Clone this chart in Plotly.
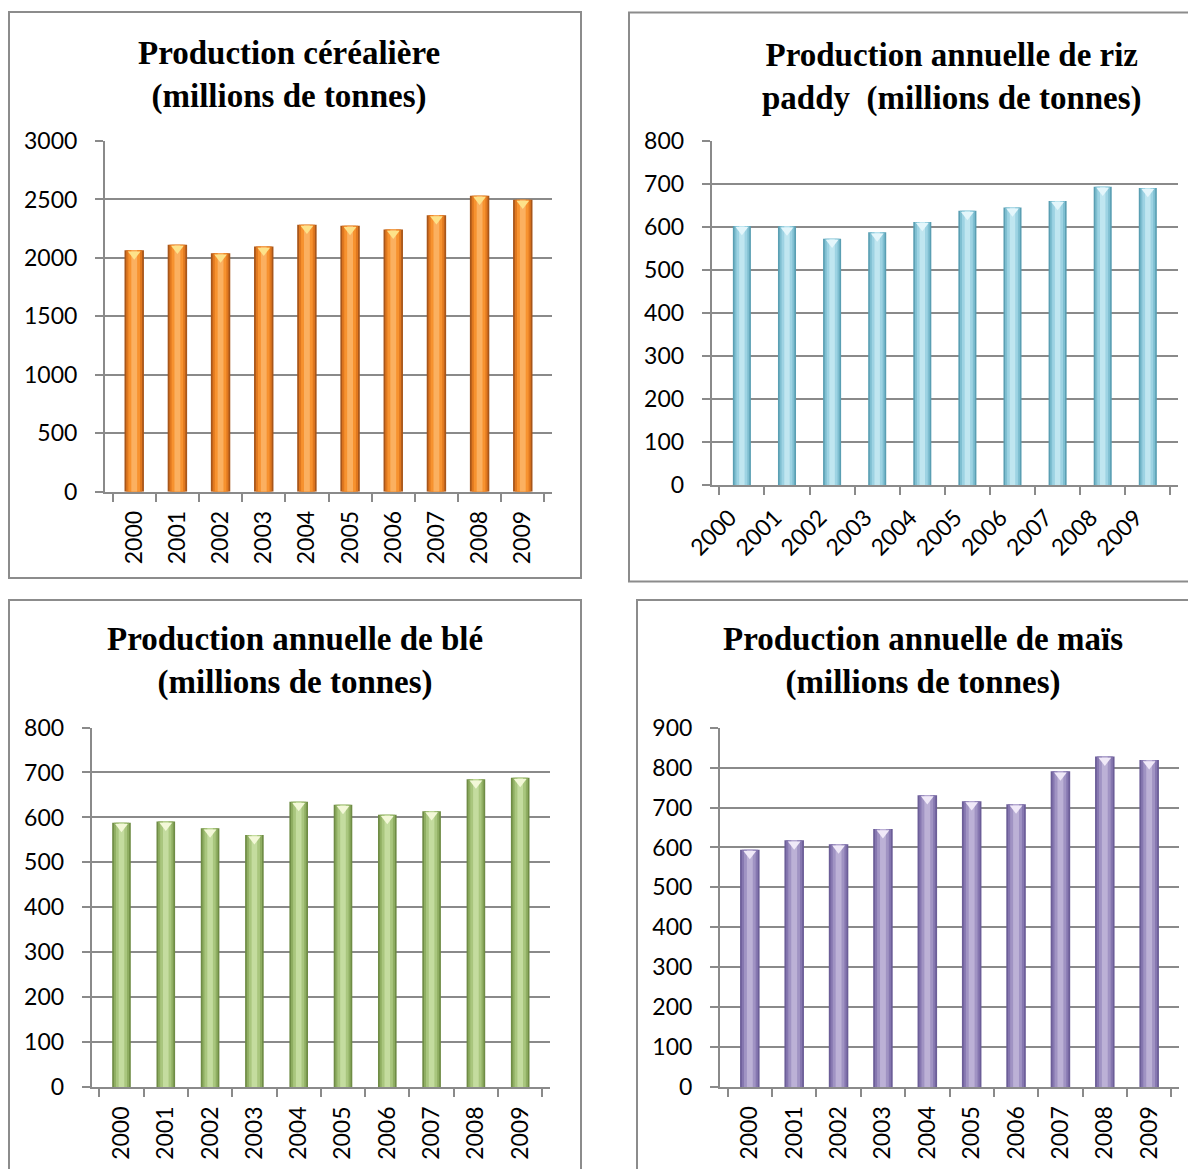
import plotly.graph_objects as go

years = ["2000", "2001", "2002", "2003", "2004", "2005", "2006", "2007", "2008", "2009"]
cereales = [2065, 2113, 2039, 2097, 2284, 2274, 2242, 2365, 2532, 2498]
riz = [602, 601, 572, 587, 611, 637, 645, 660, 693, 690]
ble = [588, 591, 576, 561, 635, 628, 606, 614, 685, 688]
mais = [594, 618, 608, 646, 731, 716, 708, 791, 828, 819]

titles = [
    "Production céréalière<br>(millions de tonnes)",
    "Production annuelle de riz<br>paddy  (millions de tonnes)",
    "Production annuelle de blé<br>(millions de tonnes)",
    "Production annuelle de maïs<br>(millions de tonnes)",
]

W, H = 1196, 1169
OFF = 8  # page body margin

panels = [
    dict(vals=cereales, ymax=3000, dtick=500, plot=(105, 552, 141, 491.7),
         border=(9, 581, 12, 578), title_xy=(289, 75), angle=-90, bw=0.45, shift=0,
         cols=("#a8561a", "#e0781f", "#f7922f", "#fbb060"), cap="#fde28a"),
    dict(vals=riz, ymax=800, dtick=100, plot=(711.7, 1178, 140.7, 485),
         border=(629, 1210, 12.5, 581.5), title_xy=(952, 77.5), angle=-45, bw=0.40, shift=-12,
         cols=("#5a9fb3", "#7fbfd1", "#9dd3e3", "#c0e6f0"), cap="#e4f6fb"),
    dict(vals=ble, ymax=800, dtick=100, plot=(91.7, 550, 727.5, 1087.3),
         border=(9, 581, 600, 1185), title_xy=(295, 660.5), angle=-90, bw=0.42, shift=0,
         cols=("#6f8c45", "#8fae62", "#a9c67e", "#c4dc9f"), cap="#f3f8d8"),
    dict(vals=mais, ymax=900, dtick=100, plot=(720, 1179, 727.7, 1087),
         border=(637, 1210, 600, 1185), title_xy=(923, 660.5), angle=-90, bw=0.44, shift=0,
         cols=("#6c5e98", "#8677b0", "#a093c3", "#bcb1d6"), cap="#f0e9f8"),
]

fig = go.Figure()
grid = "#8a8a8a"
shapes = []
annotations = []


def px_x(v):
    return (v - OFF) / W


def px_y(v):
    return 1 - (v - OFF) / H


for i, p in enumerate(panels):
    n = i + 1
    xa = "x" if n == 1 else f"x{n}"
    ya = "y" if n == 1 else f"y{n}"
    x0, x1, y0, y1 = p["plot"]
    bw = p["bw"]
    c_dark, c_mid, c_light, c_hi = p["cols"]
    for frac, col in [(1.0, c_dark), (0.82, c_mid), (0.6, c_light), (0.3, c_hi)]:
        fig.add_trace(go.Bar(x=years, y=p["vals"], width=bw * frac, marker_color=col,
                             marker_line_width=0, xaxis=xa, yaxis=ya,
                             showlegend=False, hoverinfo="skip"))
    off = p["ymax"] * 0.011
    fig.add_trace(go.Scatter(x=years, y=[v - off for v in p["vals"]], mode="markers",
                             marker=dict(symbol="triangle-down", size=11, color=p["cap"],
                                         line=dict(width=0)),
                             xaxis=xa, yaxis=ya, showlegend=False, hoverinfo="skip"))
    xdom = [px_x(x0), px_x(x1)]
    ydom = [px_y(y1), px_y(y0)]
    xkey = "xaxis" if n == 1 else f"xaxis{n}"
    ykey = "yaxis" if n == 1 else f"yaxis{n}"
    fig.layout[xkey] = dict(domain=xdom, anchor=ya, type="category", showgrid=False,
                            showline=True, linecolor=grid, linewidth=2,
                            ticks="outside", tickson="boundaries", ticklen=8,
                            tickcolor=grid, tickwidth=2, tickangle=p["angle"],
                            tickfont=dict(family="Lato", size=23, color="#000000"),
                            ticklabelstandoff=8, ticklabelshift=p["shift"],
                            automargin=False, fixedrange=True, zeroline=False)
    fig.layout[ykey] = dict(domain=ydom, anchor=xa, range=[0, p["ymax"]], dtick=p["dtick"],
                            tick0=0, showgrid=True, gridcolor=grid, gridwidth=2,
                            showline=True, linecolor=grid, linewidth=2,
                            ticks="outside", ticklen=8, tickcolor=grid, tickwidth=2,
                            tickfont=dict(family="Lato", size=23, color="#000000"),
                            ticklabelstandoff=13, automargin=False,
                            zeroline=False, fixedrange=True)
    bx0, bx1, by0, by1 = p["border"]
    shapes.append(dict(type="rect", xref="paper", yref="paper",
                       x0=px_x(bx0), x1=px_x(bx1), y0=px_y(by1), y1=px_y(by0),
                       line=dict(color="#8c8c8c", width=2), fillcolor="rgba(0,0,0,0)",
                       layer="below"))
    tx, ty = p["title_xy"]
    annotations.append(dict(text="<b>" + titles[i] + "</b>", x=px_x(tx), y=px_y(ty),
                            xref="paper", yref="paper", xanchor="center", yanchor="middle",
                            showarrow=False, align="center",
                            font=dict(family="Liberation Serif", size=33, color="#000000")))

fig.update_layout(width=W, height=H, margin=dict(l=0, r=0, t=0, b=0, autoexpand=False),
                  paper_bgcolor="white", plot_bgcolor="white", barmode="overlay",
                  shapes=shapes, annotations=annotations, showlegend=False)

fig.write_html("out.html", config={"displayModeBar": False})
